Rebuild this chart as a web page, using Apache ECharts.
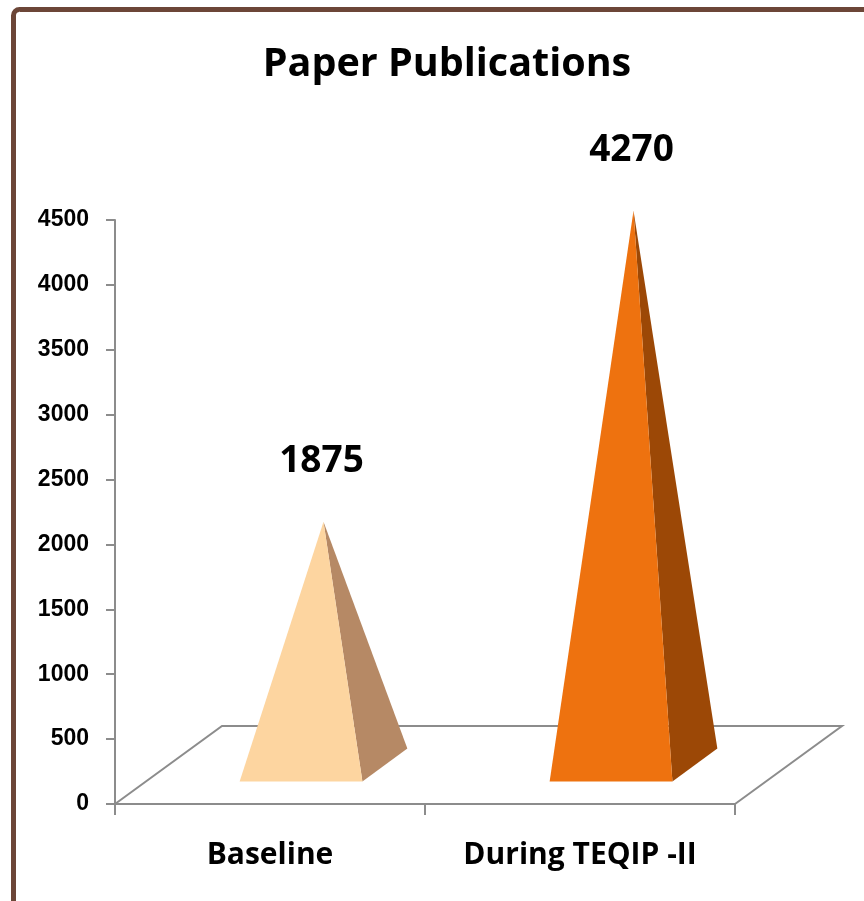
<!DOCTYPE html>
<html>
<head>
<meta charset="utf-8">
<script src="https://cdn.jsdelivr.net/npm/echarts@6/dist/echarts.min.js"></script>
<style>
html,body{margin:0;padding:0;background:#fff;}
#c{width:864px;height:901px;}
</style>
</head>
<body>
<div id="c"></div>
<script>
// ---- data ----
const categories = ['Baseline', 'During TEQIP -II'];
const values = [1875, 4270];
const yTicks = [0, 500, 1000, 1500, 2000, 2500, 3000, 3500, 4000, 4500];
const titleText = 'Paper Publications';

// ---- styles ----
const frontColors = ['#FDD5A0', '#EE720F'];
const sideColors = ['#B68965', '#9C4806'];
const axisGray = '#8c8c8c';
const DX = 107, DY = -78; // floor depth projection

const chart = echarts.init(document.getElementById('c'));

const option = {
  backgroundColor: '#fff',
  animation: false,
  title: {
    text: titleText,
    left: 442,
    top: 40,
    textAlign: 'center',
    textStyle: { fontFamily: 'Open Sans', fontWeight: 'bold', fontSize: 39.5, color: '#000' }
  },
  graphic: [{
    type: 'rect',
    shape: { x: 13.5, y: 9.5, width: 900, height: 920, r: 6 },
    style: { fill: 'none', stroke: '#6c4638', lineWidth: 5 },
    z: 100
  }],
  grid: { left: 115, right: 129, top: 220, bottom: 97 },
  xAxis: {
    type: 'category',
    data: categories,
    boundaryGap: true,
    axisLine: { lineStyle: { color: axisGray, width: 2 } },
    axisTick: { show: true, length: 11, alignWithLabel: false, lineStyle: { color: axisGray, width: 2 } },
    axisLabel: { margin: 36, color: '#000', fontFamily: 'Open Sans', fontWeight: 'bold', fontSize: 30 }
  },
  yAxis: {
    type: 'value',
    min: yTicks[0],
    max: yTicks[yTicks.length - 1],
    interval: yTicks[1] - yTicks[0],
    axisLine: { show: true, lineStyle: { color: axisGray, width: 2 } },
    axisTick: { show: true, length: 9, lineStyle: { color: axisGray, width: 2 } },
    splitLine: { show: false },
    axisLabel: {
      margin: 26, color: '#000', fontFamily: 'Liberation Sans', fontWeight: 'bold', fontSize: 23,
      formatter: function (v) { return String(v); }
    }
  },
  series: [
    {
      type: 'custom',
      name: 'floor',
      z: 1,
      silent: true,
      data: [[0, 0]],
      renderItem: function (params, api) {
        const cs = params.coordSys;
        const y0 = api.coord([0, 0])[1];
        const x0 = cs.x, x1 = cs.x + cs.width;
        const ls = { stroke: axisGray, lineWidth: 2, fill: 'none' };
        return {
          type: 'group',
          children: [
            { type: 'polyline', shape: { points: [[x0, y0], [x0 + DX, y0 + DY], [x1 + DX, y0 + DY], [x1, y0]] }, style: ls }
          ]
        };
      }
    },
    {
      type: 'custom',
      name: 'Paper Publications',
      z: 2,
      data: values.map(function (v, i) { return [i, v]; }),
      renderItem: function (params, api) {
        const i = api.value(0), v = api.value(1);
        const base = api.coord([i, 0]);
        const top = api.coord([i, v]);
        const bw = api.size([1, 0])[0];
        const hw = bw * 0.198;
        const d1 = 0.29, d2 = 0.71, dm = 0.5;
        const FL = [base[0] - hw + DX * d1, base[1] + DY * d1];
        const FR = [base[0] + hw + DX * d1, base[1] + DY * d1];
        const BR = [base[0] + hw + DX * d2, base[1] + DY * d2];
        const AP = [top[0] + DX * dm, top[1] + DY * dm];
        return {
          type: 'group',
          children: [
            { type: 'polygon', shape: { points: [FR, BR, AP] }, style: { fill: sideColors[i] } },
            { type: 'polygon', shape: { points: [FL, FR, AP] }, style: { fill: frontColors[i] } },
            {
              type: 'text',
              style: {
                text: String(v),
                x: AP[0] - 2,
                y: AP[1] - 60,
                align: 'center',
                verticalAlign: 'middle',
                fill: '#000',
                font: 'bold 37px "Open Sans"'
              }
            }
          ]
        };
      }
    }
  ]
};
chart.setOption(option);
</script>
</body>
</html>
